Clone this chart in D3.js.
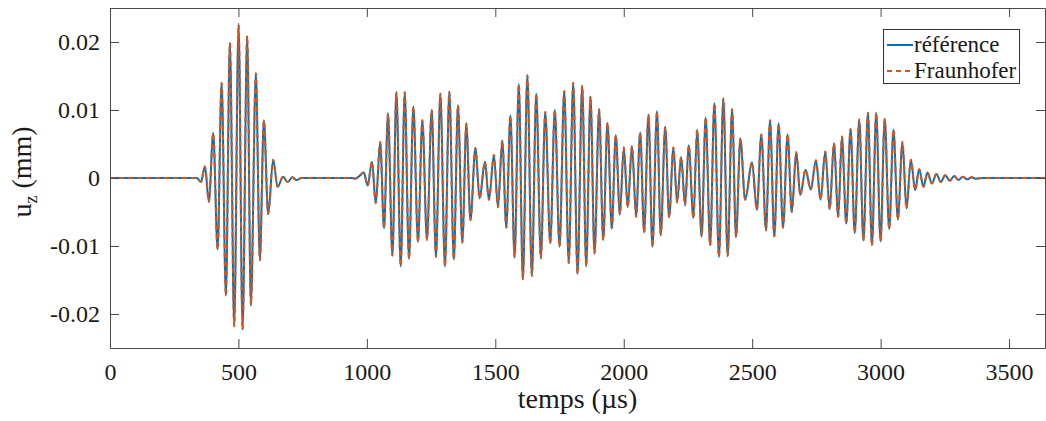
<!DOCTYPE html>
<html>
<head>
<meta charset="utf-8">
<script src="https://cdn.jsdelivr.net/npm/d3@7"></script>
<style>
  html, body { margin: 0; padding: 0; background: #fff; }
  svg { display: block; }
  text { font-family: 'Liberation Serif', Times, 'Times New Roman', Tinos, 'DejaVu Serif', 'Noto Serif', serif; fill: #1a1a1a; }
</style>
</head>
<body>
<svg id="chart" width="1046" height="421"></svg>
<script>
// ---- data (extrema of the displacement signal) ----
const xTicks = [0, 500, 1000, 1500, 2000, 2500, 3000, 3500];
const xTickLabels = ["0", "500", "1000", "1500", "2000", "2500", "3000", "3500"];
const yTicks = [-0.02, -0.01, 0, 0.01, 0.02];
const yTickLabels = ["-0.02", "-0.01", "0", "0.01", "0.02"];
const seriesNames = ["référence", "Fraunhofer"];

// [time (µs), u_z (mm)]
const referenceSamples = [
[0,0],[300,0],[338,0],[354,-0.0006],[369.5,0.0017],[385,-0.0035],[401.8,0.0066],[418.9,-0.0105],[434.5,0.0140],[451.2,-0.0173],[466.7,0.0199],[483.5,-0.0218],[500.6,0.0226],[516.1,-0.0223],[534,0.0209],[548.4,-0.0187],[567.9,0.0154],[583.4,-0.0121],[599,0.0085],[615.7,-0.0053],[635.2,0.0027],[652.3,-0.0013],[674,0.0002],[691,-0.0006],[710,0.0001],[726,-0.0003],[745,0],[900,0],[940,0],[955,-0.0001],[971,0.0003],[988,0.0008],[1003,-0.0011],[1020,0.0024],[1034.5,-0.0037],[1052,0.0053],[1066.7,-0.0074],[1082.3,0.0095],[1099.4,-0.0114],[1115,0.0126],[1131.7,-0.0130],[1147.3,0.0126],[1164,-0.0119],[1181,0.0105],[1199,-0.0094],[1216,0.0085],[1234,-0.0091],[1252.3,0.0100],[1269,-0.0116],[1286,0.0124],[1304,-0.0130],[1321,0.0127],[1338.6,-0.0120],[1354.6,0.0107],[1371.7,-0.0095],[1387.2,0.0080],[1403.2,-0.0062],[1422.6,0.0044],[1438.9,-0.0030],[1459.6,0.0024],[1475.1,-0.0032],[1494.6,0.0034],[1510.2,-0.0043],[1527.3,0.0055],[1542.8,-0.0073],[1558.7,0.0092],[1575.1,-0.0117],[1591.4,0.0138],[1607.3,-0.0149],[1624.8,0.0151],[1642.3,-0.0144],[1659.4,0.0124],[1677.3,-0.0118],[1694.4,0.0097],[1713.9,-0.0096],[1731.7,0.0100],[1750,-0.0101],[1768.3,0.0128],[1785.8,-0.0125],[1803.3,0.0140],[1820,-0.0141],[1838.3,0.0136],[1853.9,-0.0130],[1870.6,0.0120],[1886.2,-0.0111],[1904.1,0.0101],[1920,-0.0091],[1936.7,0.0081],[1953.5,-0.0074],[1969,0.0063],[1985,-0.0054],[2000.1,0.0045],[2015.7,-0.0043],[2032,0.0047],[2048.3,-0.0057],[2063.9,0.0067],[2079.4,-0.0080],[2096.2,0.0093],[2111.8,-0.0101],[2129.3,0.0098],[2144,-0.0084],[2161.5,0.0075],[2176.7,-0.0058],[2193.4,0.0045],[2207.8,-0.0036],[2223.3,0.0031],[2238.9,-0.0040],[2252.9,0.0048],[2271.2,-0.0059],[2285.6,0.0071],[2303.1,-0.0086],[2319,0.0089],[2336.5,-0.0099],[2352.8,0.0110],[2370.7,-0.0116],[2387.8,0.0117],[2404.5,-0.0115],[2421.7,0.0101],[2437.2,-0.0087],[2454,0.0058],[2472.6,-0.0032],[2499.5,0.0023],[2518.2,-0.0047],[2535.6,0.0064],[2553.9,-0.0077],[2569.5,0.0085],[2586.2,-0.0086],[2602.9,0.0080],[2620,-0.0073],[2637.9,0.0064],[2654.2,-0.0050],[2671.7,0.0038],[2687.2,-0.0025],[2707.8,0.0012],[2728,-0.0017],[2748.3,0.0026],[2766.2,-0.0032],[2784.5,0.0039],[2802,-0.0046],[2818.3,0.0051],[2835,-0.0057],[2849.5,0.0061],[2866.2,-0.0067],[2883,0.0072],[2899.3,-0.0081],[2916.8,0.0086],[2933.1,-0.0092],[2950.6,0.0096],[2966.2,-0.0099],[2982.9,0.0096],[2999.6,-0.0093],[3016,0.0087],[3033.4,-0.0075],[3050.1,0.0071],[3067.2,-0.0061],[3085.1,0.0053],[3100.7,-0.0045],[3117.8,0.0027],[3134.5,-0.0018],[3150.1,0.0013],[3166.8,-0.0013],[3182.3,0.0008],[3199.5,-0.0008],[3217.3,0.0006],[3234.4,-0.0006],[3251.2,0.0004],[3269.5,-0.0004],[3286.2,0.0003],[3302.9,-0.0003],[3320,0.0002],[3337,-0.0002],[3354,0.0001],[3370,-0.0001],[3400,0],[3640,0]
];
// the Fraunhofer result overlaps the reference everywhere in the picture
const fraunhoferSamples = referenceSamples.map(d => [d[0], d[1]]);

// ---- layout ----
const FONT = "'Liberation Serif', Times, 'Times New Roman', Tinos, 'DejaVu Serif', 'Noto Serif', serif";
const svg = d3.select("#chart");
const L = 110, R = 1045, T = 8, B = 348;
const x = d3.scaleLinear().domain([0, 3640]).range([L, R]);
const y = d3.scaleLinear().domain([-0.025, 0.025]).range([B, T]);
const axisColor = "#4a4a4a";

svg.append("defs").append("clipPath").attr("id", "clip")
  .append("rect").attr("x", L).attr("y", T).attr("width", R - L).attr("height", B - T);

const line = d3.line().x(d => x(d[0])).y(d => y(d[1])).curve(d3.curveMonotoneX);

const plot = svg.append("g").attr("clip-path", "url(#clip)");
plot.append("path").datum(referenceSamples)
  .attr("d", line).attr("fill", "none")
  .attr("stroke", "#0072BD").attr("stroke-width", 2);
plot.append("path").datum(fraunhoferSamples)
  .attr("d", line).attr("fill", "none")
  .attr("stroke", "#D95319").attr("stroke-width", 2)
  .attr("stroke-dasharray", "5,4");

// ---- axes ----
function styleAxis(g) {
  g.attr("font-family", FONT);
  g.selectAll("path").attr("stroke", axisColor);
  g.selectAll("line").attr("stroke", axisColor);
  g.selectAll("text").attr("fill", "#1a1a1a").attr("font-family", FONT).style("font-family", FONT);
}
const gx = svg.append("g").attr("transform", `translate(0,${B})`)
  .call(d3.axisBottom(x).tickValues(xTicks).tickFormat((d, i) => xTickLabels[i])
    .tickSizeInner(-9).tickSizeOuter(0).tickPadding(15));
gx.selectAll("text").style("font-size", "24px");
styleAxis(gx);

const gt = svg.append("g").attr("transform", `translate(0,${T})`)
  .call(d3.axisTop(x).tickValues(xTicks).tickFormat("").tickSizeInner(-9).tickSizeOuter(0));
styleAxis(gt);

const gy = svg.append("g").attr("transform", `translate(${L},0)`)
  .call(d3.axisLeft(y).tickValues(yTicks).tickFormat((d, i) => yTickLabels[i])
    .tickSizeInner(-9).tickSizeOuter(0).tickPadding(10));
gy.selectAll("text").style("font-size", "24px");
styleAxis(gy);

const gr = svg.append("g").attr("transform", `translate(${R},0)`)
  .call(d3.axisRight(y).tickValues(yTicks).tickFormat("").tickSizeInner(-9).tickSizeOuter(0));
styleAxis(gr);

// ---- axis titles ----
svg.append("text").attr("x", (L + R) / 2).attr("y", 408)
  .attr("text-anchor", "middle").style("font-family", FONT).style("font-size", "28px").text("temps (µs)");

const yl = svg.append("text")
  .attr("transform", `translate(31,${172}) rotate(-90)`)
  .attr("text-anchor", "middle").style("font-family", FONT).style("font-size", "28px");
yl.append("tspan").text("u");
yl.append("tspan").attr("dy", 6).style("font-size", "18px").text("z");
yl.append("tspan").attr("dy", -6).text(" (mm)");

// ---- legend ----
const lg = svg.append("g");
lg.append("rect").attr("x", 883.5).attr("y", 29.5).attr("width", 136).attr("height", 54)
  .attr("fill", "#fff").attr("stroke", "#333").attr("stroke-width", 1);
const rows = [
  { name: seriesNames[0], color: "#0072BD", dash: null, cy: 45 },
  { name: seriesNames[1], color: "#D95319", dash: "5,4", cy: 71 }
];
rows.forEach(r => {
  lg.append("line").attr("x1", 887).attr("x2", 913).attr("y1", r.cy).attr("y2", r.cy)
    .attr("stroke", r.color).attr("stroke-width", 2).attr("stroke-dasharray", r.dash);
  lg.append("text").attr("x", 914).attr("y", r.cy).attr("dy", "0.32em")
    .style("font-family", FONT).style("font-size", "23px").text(r.name);
});
</script>
</body>
</html>
